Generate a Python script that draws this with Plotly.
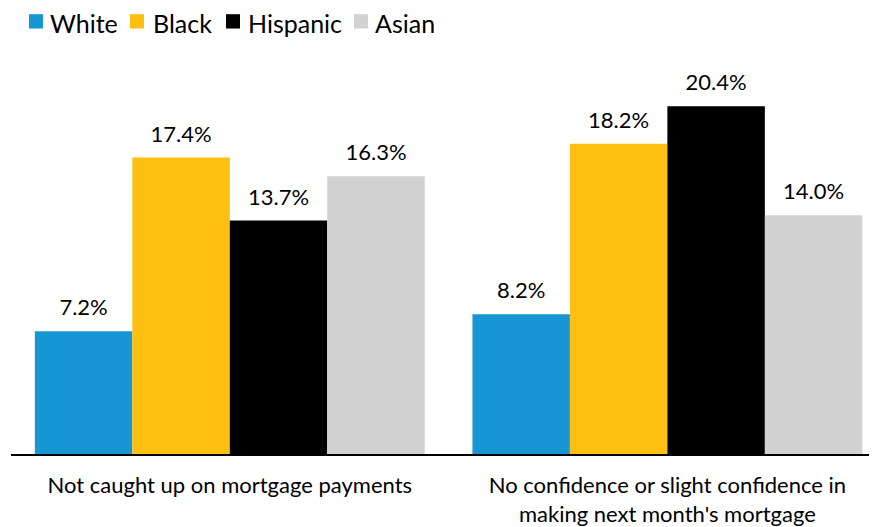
import plotly.graph_objects as go

categories = ["Not caught up on mortgage payments",
              "No confidence or slight confidence in<br>making next month's mortgage"]
series_names = ["White", "Black", "Hispanic", "Asian"]
white = [7.2, 8.2]
black = [17.4, 18.2]
hispanic = [13.7, 20.4]
asian = [16.3, 14.0]
values = [white, black, hispanic, asian]
colors = ["#1696d2", "#fdbf11", "#000000", "#d2d2d2"]

# figure / plot geometry (page has an 8px body margin)
W, H = 869, 519
ML, MR, MT, MB = 3, 0, 71, 69
PW, PH = W - ML - MR, H - MT - MB
OFF = 8


def px_to_paper_x(px):
    return (px - OFF - ML) / PW


def px_to_paper_y(py):
    return (H - MB - (py - OFF)) / PH


fig = go.Figure()
for name, vals, col in zip(series_names, values, colors):
    fig.add_trace(go.Bar(
        x=[0, 1], y=vals, name=name, marker_color=col, marker_line_width=0,
        offsetgroup=name, showlegend=False,
    ))
for name, vals in zip(series_names, values):
    fig.add_trace(go.Scatter(
        x=[0, 1], y=vals, mode="markers+text", offsetgroup=name,
        marker=dict(size=15, opacity=0),
        text=[f"{v:.1f}%" for v in vals], textposition="top center",
        textfont=dict(family="Lato", size=22, color="#000000"),
        cliponaxis=False, showlegend=False, hoverinfo="skip",
    ))

# legend drawn as squares + labels
legend_sq_x = [29, 130, 226, 354]
legend_tx_x = [49, 152, 247, 374]
shapes = []
annotations = []
for name, col, sx, tx in zip(series_names, colors, legend_sq_x, legend_tx_x):
    shapes.append(dict(type="rect", xref="paper", yref="paper",
                       x0=px_to_paper_x(sx), x1=px_to_paper_x(sx + 14),
                       y0=px_to_paper_y(28), y1=px_to_paper_y(13.5),
                       fillcolor=col, line_width=0))
    annotations.append(dict(text=name, xref="paper", yref="paper",
                            x=px_to_paper_x(tx), y=px_to_paper_y(22),
                            xanchor="left", yanchor="middle", showarrow=False,
                            borderpad=0,
                            font=dict(family="Lato", size=25, color="#000000")))

fig.update_layout(
    width=W, height=H,
    margin=dict(l=ML, r=MR, t=MT, b=MB),
    barmode="group", bargap=0.109, bargroupgap=0,
    scattermode="group", scattergap=0.109,
    plot_bgcolor="white", paper_bgcolor="white",
    font=dict(family="Lato", size=22, color="#000000"),
    showlegend=False,
    shapes=shapes, annotations=annotations,
    xaxis=dict(tickmode="array", tickvals=[0, 1], ticktext=categories,
               range=[-0.5, 1.479], showline=True, linecolor="#000000", linewidth=2,
               showgrid=False, zeroline=False, ticks="", ticklabelstandoff=11,
               tickfont=dict(family="Lato", size=22)),
    yaxis=dict(range=[0, 22], visible=False, showgrid=False),
)
fig.write_html("out.html")
